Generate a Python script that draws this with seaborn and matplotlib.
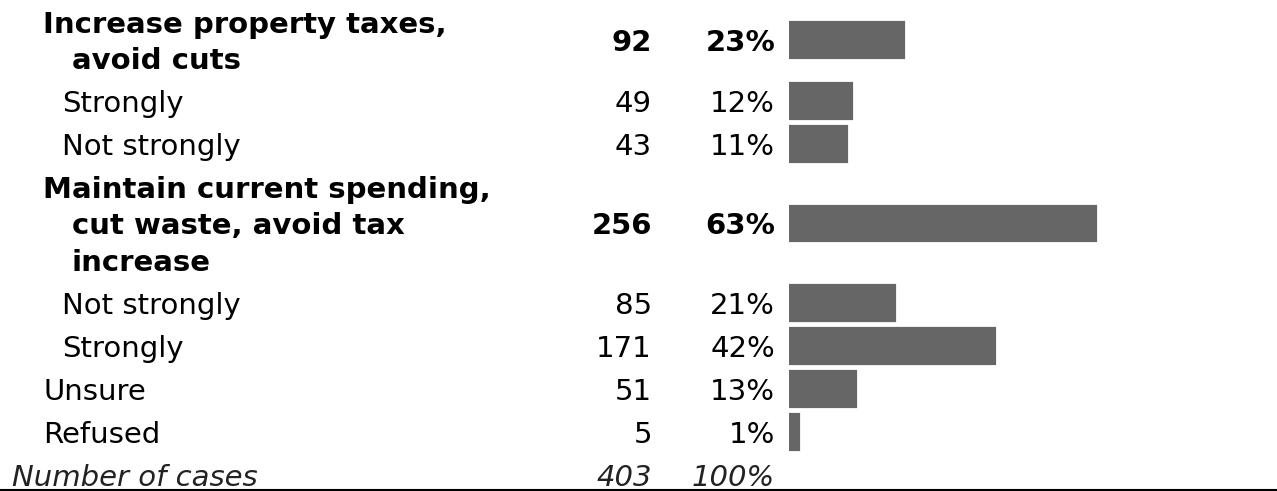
import matplotlib

matplotlib.use("Agg")
import matplotlib.pyplot as plt
import pandas as pd
import seaborn as sns

# survey table: label, count, percent (percent drives the bar)
LABELS = [
    "Increase property taxes,\navoid cuts",
    "Strongly",
    "Not strongly",
    "Maintain current spending,\ncut waste, avoid tax\nincrease",
    "Not strongly",
    "Strongly",
    "Unsure",
    "Refused",
]
LEVELS = ["head", "sub", "sub", "head", "sub", "sub", "top", "top"]
COUNTS = [92, 49, 43, 256, 85, 171, 51, 5]
PCTS = [23, 12, 11, 63, 21, 42, 13, 1]
TOTAL_LABEL = "Number of cases"
TOTAL_N = 403
TOTAL_PCT = 100

W, H = 1277, 491
FONT_SIZE = 21
ROW_H = 43
LINE_H = 36.5
BAR_COLOR = "#666666"
EDGE_PX = 6.2          # bars carry a thick edge, like the original
PX_PER_PCT = 4.79

LABEL_X = {"head": 43, "sub": 62, "top": 43}
WRAP_X = 72
COUNT_X = 652
PCT_X = 775
BAR_LEFT = 789


def row_centers(labels):
    """Stack the rows top-down, multi-line labels get taller rows."""
    centers = []
    top = 0.0
    for lab in labels:
        n = lab.count("\n") + 1
        h = ROW_H + LINE_H * (n - 1)
        centers.append(top + h / 2)
        top += h
    return centers, top + ROW_H / 2


def main():
    sns.set_theme(style="white")
    plt.rcParams["font.family"] = ["DejaVu Sans"]
    plt.rcParams["text.color"] = "black"

    centers, total_y = row_centers(LABELS)
    df = pd.DataFrame({"label": LABELS, "pct": PCTS, "y": centers})

    fig = plt.figure(figsize=(W / 100, H / 100), dpi=100)

    # text layer in pixel units
    tab = fig.add_axes([0, 0, 1, 1])
    tab.set_xlim(0, W)
    tab.set_ylim(H, 0)
    tab.axis("off")

    # bar layer
    bar_ax = fig.add_axes([BAR_LEFT / W, 0, 1 - BAR_LEFT / W, 1])
    sns.barplot(
        data=df,
        x="pct",
        y="y",
        orient="h",
        native_scale=True,
        color=BAR_COLOR,
        saturation=1,
        width=(38 - EDGE_PX) / ROW_H,
        edgecolor=BAR_COLOR,
        linewidth=EDGE_PX * 72 / 100,
        ax=bar_ax,
    )
    x0 = -(EDGE_PX / 2) / PX_PER_PCT
    bar_ax.set_xlim(x0, x0 + (W - BAR_LEFT) / PX_PER_PCT)
    bar_ax.set_ylim(H, 0)
    bar_ax.axis("off")

    for lab, lvl, cnt, pct, yc in zip(LABELS, LEVELS, COUNTS, PCTS, centers):
        weight = "bold" if lvl == "head" else "normal"
        lines = lab.split("\n")
        n = len(lines)
        for i, line in enumerate(lines):
            ly = yc + (i - (n - 1) / 2) * LINE_H
            lx = LABEL_X[lvl] if i == 0 else WRAP_X
            tab.text(lx, ly, line, fontsize=FONT_SIZE, fontweight=weight,
                     ha="left", va="center_baseline")
        tab.text(COUNT_X, yc, str(cnt), fontsize=FONT_SIZE, fontweight=weight,
                 ha="right", va="center_baseline")
        tab.text(PCT_X, yc, f"{pct}%", fontsize=FONT_SIZE, fontweight=weight,
                 ha="right", va="center_baseline")

    # total row
    tab.text(12, total_y, TOTAL_LABEL, fontsize=FONT_SIZE, style="italic",
             ha="left", va="center_baseline", color="#222222")
    tab.text(COUNT_X, total_y, str(TOTAL_N), fontsize=FONT_SIZE, style="italic",
             ha="right", va="center_baseline", color="#222222")
    tab.text(PCT_X, total_y, f"{TOTAL_PCT}%", fontsize=FONT_SIZE, style="italic",
             ha="right", va="center_baseline", color="#222222")

    tab.axhline(489.5, color="black", linewidth=1.5)

    fig.savefig("out.png", dpi=100, facecolor="white")
    plt.close(fig)


if __name__ == "__main__":
    main()
